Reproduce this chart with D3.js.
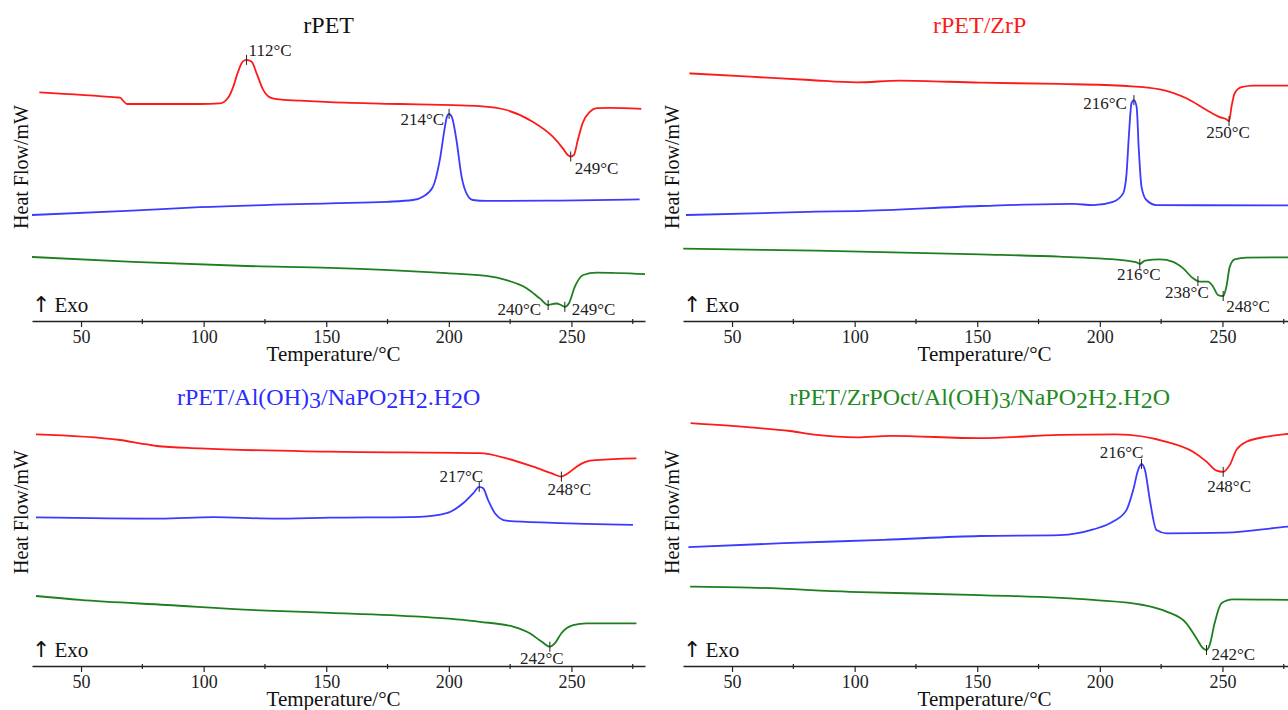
<!DOCTYPE html>
<html>
<head>
<meta charset="utf-8">
<script src="https://cdn.jsdelivr.net/npm/d3@7"></script>
<style>
  body { margin: 0; background: #fff; }
  svg { display: block; font-family: "Liberation Serif", "Times New Roman", serif; }
</style>
</head>
<body>
<svg width="1288" height="710"></svg>
<script>
const width = 1288;
const height = 710;

// temperature axis
const tempDomain = [30, 280];
const majorTicks = [50, 100, 150, 200, 250];
const minorTicks = [75, 125, 175, 225, 275];

// heat flow curves, [temperature °C, heat flow (arb. mW, offset)]
// --- rPET
const rpetRed = [[33,7.59],[64.5,7.42],[65.9,7.41],[67.5,7.28],[68.7,7.2],[82.2,7.2],[98.5,7.2],[106.6,7.22],[109.9,7.4],[112.1,7.78],[113.6,8.17],[114.8,8.44],[116,8.62],[117.5,8.67],[119.6,8.61],[121.6,8.22],[124.3,7.67],[127,7.42],[129.8,7.36],[139.3,7.31],[151.5,7.26],[180,7.2],[201.6,7.16],[212.6,7.13],[223.5,7.0],[234.2,6.61],[242.4,6.11],[246.5,5.72],[248.5,5.5],[249.7,5.45],[251,5.5],[252.6,6.0],[254.6,6.57],[257.5,6.94],[260.3,7.06],[265.6,7.07],[278.5,7.04]];
const rpetBlue = [[30,3.5],[68.6,3.64],[98.5,3.76],[151.5,3.89],[174.6,3.94],[185.3,4.0],[189.4,4.11],[193.5,4.44],[196.3,5.33],[198.4,6.44],[199.2,6.77],[200.1,6.87],[200.9,6.82],[201.6,6.67],[203.1,6.0],[205.2,4.78],[207.2,4.22],[209.8,4.0],[215.4,3.97],[245.2,3.98],[277.8,4.02]];
const rpetGreen = [[30,2.1],[71.2,1.94],[117.5,1.8],[151.5,1.74],[199.1,1.56],[215.4,1.47],[223.5,1.33],[231.7,1.06],[237.1,0.72],[240.5,0.5],[242,0.53],[243.9,0.55],[245.7,0.5],[247.3,0.44],[249,0.56],[251.4,1.11],[254.8,1.5],[260.2,1.58],[280,1.53]];
const rpetMarks = [[117.5,8.67,"112°C"],[200.1,6.87,"214°C"],[249.7,5.45,"249°C"],[240.5,0.5,"240°C"],[247.3,0.44,"249°C"]];

// --- rPET/ZrP
const zrpRed = [[32.6,8.22],[57.3,8.11],[81.8,8.0],[100.8,7.92],[118.5,7.98],[151.1,7.91],[183.7,7.87],[210.9,7.8],[224.5,7.69],[235.3,7.39],[243.5,7.0],[248.9,6.76],[251.6,6.69],[252.7,6.63],[253.7,7.11],[255,7.56],[257.8,7.76],[262.5,7.81],[280,7.81]];
const zrpBlue = [[31.2,3.5],[84.5,3.61],[100.8,3.63],[151.1,3.8],[189.1,3.87],[197.3,3.83],[205.4,3.94],[209.5,4.22],[210.9,4.89],[211.9,6.22],[212.9,7.22],[213.9,7.33],[215,7.11],[215.9,5.67],[217,4.44],[219,4.0],[223.1,3.83],[280,3.82]];
const zrpGreen = [[30.1,2.38],[84.5,2.31],[151.1,2.19],[183.7,2.11],[210.9,1.98],[215,1.92],[216.3,1.87],[218.4,1.98],[224.5,2.02],[229.9,1.94],[234,1.72],[238,1.39],[240.8,1.28],[244.1,1.28],[246.2,1.11],[248.2,0.83],[250.3,0.8],[251.6,1.11],[253,1.78],[255,2.02],[259.8,2.08],[280,2.09]];
const zrpMarks = [[213.9,7.33,"216°C"],[252.7,6.63,"250°C"],[216.3,1.87,"216°C"],[240,1.3,"238°C"],[250.3,0.8,"248°C"]];

// --- rPET/Al(OH)3/NaPO2H2.H2O
const aohRed = [[31.6,7.69],[65.9,7.5],[74,7.39],[80.8,7.3],[98.5,7.22],[151.5,7.11],[212.6,7.06],[223.5,6.89],[234.4,6.61],[242.5,6.37],[245.9,6.28],[248.6,6.39],[252.1,6.61],[256.1,6.78],[260.2,6.83],[276.5,6.89]];
const aohBlue = [[31.6,4.92],[82.2,4.88],[103.9,4.93],[128.4,4.88],[151.5,4.91],[188.2,4.94],[199.1,5.06],[205.8,5.39],[209.9,5.72],[212.4,5.94],[214,5.89],[216,5.5],[218.8,5.06],[223.5,4.81],[242.5,4.74],[275.1,4.67]];
const aohGreen = [[31.6,2.3],[49.6,2.17],[84.9,2.0],[125.7,1.81],[151.5,1.74],[188.2,1.61],[212.6,1.44],[226.2,1.28],[233,1.06],[237.8,0.78],[241.2,0.61],[243.2,0.72],[245.9,1.06],[250.7,1.33],[256.1,1.39],[276.5,1.39]];
const aohMarks = [[245.9,6.28,"248°C"],[212.4,5.94,"217°C"],[241.2,0.61,"242°C"]];

// --- rPET/ZrPOct/Al(OH)3/NaPO2H2.H2O
const octRed = [[33.1,8.06],[57.3,7.92],[73.6,7.8],[84.5,7.67],[100.8,7.59],[114.4,7.64],[151.1,7.56],[183.7,7.67],[206.8,7.69],[227.2,7.44],[238,7.11],[243.5,6.78],[247.6,6.48],[250.3,6.44],[253,6.67],[255.7,7.17],[259.8,7.44],[268,7.61],[276.1,7.7],[280,7.73]];
const octBlue = [[32.2,3.93],[70.9,4.06],[111.7,4.17],[151.1,4.3],[183.7,4.33],[197.3,4.52],[205.4,4.78],[210.9,5.17],[213.6,5.83],[215.6,6.5],[217,6.7],[218.4,6.5],[220.4,5.5],[223.1,4.5],[227.2,4.39],[251.6,4.41],[276.6,4.61],[280,4.63]];
const octGreen = [[32.9,2.61],[57.3,2.58],[98.1,2.44],[151.1,2.33],[197.3,2.17],[217.7,2.0],[227.2,1.78],[235.3,1.39],[239.4,0.89],[242.1,0.56],[243.5,0.5],[244.8,0.67],[246.8,1.39],[249.6,2.06],[254.3,2.19],[280,2.17]];
const octMarks = [[217,6.7,"216°C"],[250.3,6.44,"248°C"],[243.5,0.5,"242°C"]];

const titles = ["rPET", "rPET/ZrP", "rPET/Al(OH)_3/NaPO_2H_2.H_2O", "rPET/ZrPOct/Al(OH)_3/NaPO_2H_2.H_2O"];

// layout / styling
const curveColors = ["#ff1a1a", "#3b3bff", "#1f7f1f"];
const titleColors = ["#111", "#ff1a1a", "#2b2bff", "#1f8a1f"];

// label offsets (px) from each marked point: [dx, dy, anchor]
const labelPos = [
  [[2,-4,"start"],[-5,11,"end"],[4,17,"start"],[-7,10,"end"],[7,8,"start"]],
  [[-7,9,"end"],[-1,17,"middle"],[-1,16,"middle"],[-11,17,"middle"],[3,16,"start"]],
  [[8,18,"middle"],[-18,-5,"middle"],[-8,17,"middle"]],
  [[-20,-6,"middle"],[6,20,"middle"],[5,10,"start"]]
];

const panels = [
  {left: 32, axisY: 320, titleY: 33, series: [rpetRed, rpetBlue, rpetGreen], marks: rpetMarks},
  {left: 683, axisY: 320, titleY: 33, series: [zrpRed, zrpBlue, zrpGreen], marks: zrpMarks},
  {left: 32, axisY: 665, titleY: 405, series: [aohRed, aohBlue, aohGreen], marks: aohMarks},
  {left: 683, axisY: 665, titleY: 405, series: [octRed, octBlue, octGreen], marks: octMarks}
];

const svg = d3.select("svg");

panels.forEach((p, i) => {
  const x = d3.scaleLinear().domain(tempDomain).range([p.left, p.left + 613]);
  const y = d3.scaleLinear().domain([0, 10]).range([p.axisY, p.axisY - 300]);
  const g = svg.append("g");

  // title
  const t = g.append("text")
    .attr("x", x(151)).attr("y", p.titleY)
    .attr("text-anchor", "middle")
    .attr("font-size", 24)
    .attr("fill", titleColors[i]);
  titles[i].split(/(_\d)/).forEach(s => {
    if (!s) return;
    if (s[0] === "_") t.append("tspan").attr("baseline-shift", "-3").text(s.slice(1));
    else t.append("tspan").text(s);
  });

  // axis
  const ax = g.append("g")
    .attr("transform", `translate(0,${p.axisY + 1})`)
    .call(d3.axisBottom(x).tickValues(majorTicks).tickSize(6).tickSizeOuter(0));
  ax.select(".domain").attr("stroke", "#222").attr("stroke-width", 1.5);
  ax.selectAll(".tick line").attr("stroke", "#222").attr("stroke-width", 1.2);
  ax.selectAll(".tick text").attr("font-size", 18).attr("font-family", "Liberation Serif, serif").attr("fill", "#222");
  ax.selectAll(".minor").data(minorTicks).join("line")
    .attr("class", "minor")
    .attr("x1", d => x(d)).attr("x2", d => x(d))
    .attr("y1", -2).attr("y2", 3)
    .attr("stroke", "#222").attr("stroke-width", 1.2);

  g.append("text")
    .attr("x", x(153)).attr("y", p.axisY + 41)
    .attr("text-anchor", "middle").attr("font-size", 21).attr("fill", "#111")
    .text("Temperature/°C");

  g.append("text")
    .attr("transform", `translate(${p.left - 4},${p.axisY - 153}) rotate(-90)`)
    .attr("text-anchor", "middle").attr("font-size", 20).attr("fill", "#111")
    .text("Heat Flow/mW");

  const exo = g.append("text")
    .attr("x", p.left).attr("y", p.axisY - 8)
    .attr("font-size", 21).attr("fill", "#111");
  exo.append("tspan").attr("font-family", "DejaVu Sans").attr("font-size", 22).text("↑");
  exo.append("tspan").attr("dx", 4).text("Exo");

  // curves
  const line = d3.line().x(d => x(d[0])).y(d => y(d[1])).curve(d3.curveMonotoneX);
  p.series.forEach((s, k) => {
    g.append("path")
      .datum(s)
      .attr("d", line)
      .attr("fill", "none")
      .attr("stroke", curveColors[k])
      .attr("stroke-width", 1.8);
  });

  // peak markers + labels
  p.marks.forEach((m, k) => {
    const [dx, dy, anchor] = labelPos[i][k];
    g.append("line")
      .attr("x1", x(m[0])).attr("x2", x(m[0]))
      .attr("y1", y(m[1]) - 5).attr("y2", y(m[1]) + 5)
      .attr("stroke", "#222").attr("stroke-width", 1);
    g.append("text")
      .attr("x", x(m[0]) + dx).attr("y", y(m[1]) + dy)
      .attr("text-anchor", anchor)
      .attr("font-size", 17).attr("fill", "#222")
      .text(m[2]);
  });
});
</script>
</body>
</html>
